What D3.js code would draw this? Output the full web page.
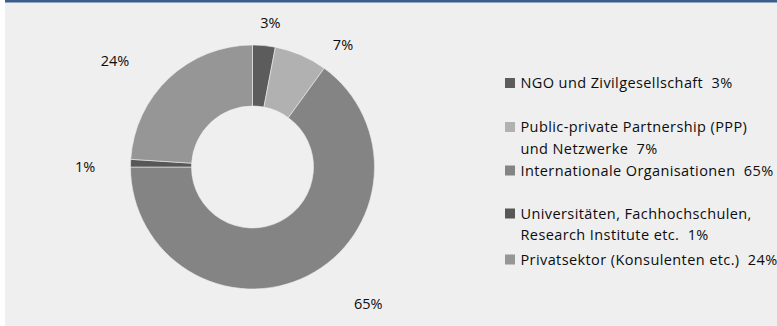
<!DOCTYPE html>
<html>
<head>
<meta charset="utf-8">
<script src="https://cdn.jsdelivr.net/npm/d3@7/dist/d3.min.js"></script>
<style>
  html, body { margin: 0; padding: 0; background: #ffffff; }
  svg { display: block; }
  text { font-family: "Open Sans", "Noto Sans", sans-serif; fill: #0d0d0d; white-space: pre; }
</style>
</head>
<body>
<svg id="chart" width="777" height="326"></svg>
<script>
// Shares of partner types (percent)
const categories = [
  "NGO und Zivilgesellschaft",
  "Public-private Partnership (PPP)\nund Netzwerke",
  "Internationale Organisationen",
  "Universitäten, Fachhochschulen,\nResearch Institute etc.",
  "Privatsektor (Konsulenten etc.)"
];
const values = [3, 7, 65, 1, 24];
const colors = ["#5c5c5c", "#b1b1b1", "#848484", "#575757", "#969696"];

const width = 777, height = 326;
const svg = d3.select("#chart");

// panel background and top rule
svg.append("rect").attr("x", 5).attr("y", 0).attr("width", width - 5).attr("height", height).attr("fill", "#efefef");
svg.append("rect").attr("x", 5).attr("y", 0).attr("width", width - 5).attr("height", 2.5).attr("fill", "#3a5d8c");

const cx = 252.5, cy = 167, outerR = 122, innerR = 61;

const data = categories.map((c, i) => ({ name: c, value: values[i], color: colors[i] }));
const pie = d3.pie().value(d => d.value).sort(null);
const arcs = pie(data);
const arc = d3.arc().innerRadius(innerR).outerRadius(outerR);

const g = svg.append("g").attr("transform", `translate(${cx},${cy})`);
g.selectAll("path.slice")
  .data(arcs)
  .join("path")
  .attr("class", "slice")
  .attr("d", arc)
  .attr("fill", d => d.data.color)
  .attr("stroke", "#efefef")
  .attr("stroke-width", 0.6);

// percentage labels outside the ring
const labelArc = d3.arc().innerRadius(outerR + 14).outerRadius(outerR + 14);
const labelOffsets = [[5, -9.5], [36.5, 2.5], [54, 15], [-31.5, 3.3], [-44.5, -7.8]];
g.selectAll("text.pct")
  .data(arcs)
  .join("text")
  .attr("class", "pct")
  .attr("x", (d, i) => labelArc.centroid(d)[0] + labelOffsets[i][0])
  .attr("y", (d, i) => labelArc.centroid(d)[1] + labelOffsets[i][1])
  .attr("text-anchor", "middle")
  .attr("dominant-baseline", "central")
  .attr("font-size", 14.5)
  .text(d => d.data.value + "%");

// legend
const legendX = 505;
const legendRows = [82.5, 126.5, 170, 213, 259];
const lineGap = 21.5;
const lg = svg.append("g");
data.forEach((d, i) => {
  const y = legendRows[i];
  lg.append("rect").attr("x", legendX).attr("y", y - 4.5).attr("width", 10).attr("height", 10).attr("fill", d.color);
  const lines = d.name.split("\n");
  const t = lg.append("text").attr("font-size", 14.5).attr("letter-spacing", 0.4);
  lines.forEach((ln, j) => {
    const last = j === lines.length - 1;
    t.append("tspan")
      .attr("x", legendX + 15.5)
      .attr("y", y + j * lineGap)
      .attr("dominant-baseline", "central")
      .text(last ? ln + "  " + d.value + "%" : ln);
  });
});
</script>
</body>
</html>
